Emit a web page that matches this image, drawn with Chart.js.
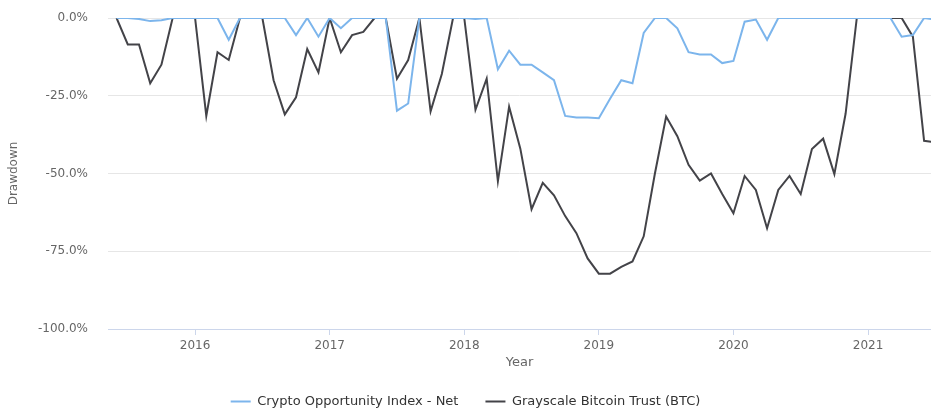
<!DOCTYPE html>
<html>
<head>
<meta charset="utf-8">
<script src="https://cdn.jsdelivr.net/npm/chart.js@4/dist/chart.umd.min.js"></script>
<style>
  html, body { margin: 0; padding: 0; background: #fff; }
  #wrap { width: 931px; height: 408px; position: relative; }
</style>
</head>
<body>
<div id="wrap"><canvas id="chart"></canvas></div>
<script>
// Monthly drawdown (%), Jun 2015 – Jul 2021
const MONTHS = [
  "2015-06","2015-07","2015-08","2015-09","2015-10","2015-11","2015-12",
  "2016-01","2016-02","2016-03","2016-04","2016-05","2016-06","2016-07","2016-08","2016-09","2016-10","2016-11","2016-12",
  "2017-01","2017-02","2017-03","2017-04","2017-05","2017-06","2017-07","2017-08","2017-09","2017-10","2017-11","2017-12",
  "2018-01","2018-02","2018-03","2018-04","2018-05","2018-06","2018-07","2018-08","2018-09","2018-10","2018-11","2018-12",
  "2019-01","2019-02","2019-03","2019-04","2019-05","2019-06","2019-07","2019-08","2019-09","2019-10","2019-11","2019-12",
  "2020-01","2020-02","2020-03","2020-04","2020-05","2020-06","2020-07","2020-08","2020-09","2020-10","2020-11","2020-12",
  "2021-01","2021-02","2021-03","2021-04","2021-05","2021-06","2021-07",
];

const CRYPTO_INDEX = [
  0, 0, -0.3, -1, -0.7, 0, 0,
  0, 0, 0, -7, 0, 0, 0, 0, 0, -5.5, 0, -6,
  0, -3.3, 0, 0, 0, 0, -29.8, -27.5, 0, 0, 0, 0,
  0, -0.3, 0, -16.5, -10.5, -15, -15, -17.5, -20, -31.5, -32, -32,
  -32.2, -26, -20, -21, -4.8, 0, 0, -3.3, -11, -11.7, -11.7, -14.5,
  -13.8, -1.2, -0.5, -7, 0, 0, 0, 0, 0, 0, 0, 0,
  0, 0, 0, -6, -5.5, 0, -0.5,
];

const GBTC = [
  0, -8.5, -8.5, -21, -15, 0, 0,
  0, -31.5, -11, -13.5, 0, 0, 0, -20, -31, -25.5, -10, -17.5,
  0, -11, -5.5, -4.5, 0, 0, -19.5, -13.5, 0, -30, -18, 0,
  0, -29.5, -19.5, -52.5, -28.5, -42, -61.5, -53, -57, -63.7, -69.2, -77.3,
  -82.2, -82.2, -80, -78.3, -70.2, -50, -31.7, -38, -47.2, -52.3, -50, -56.6,
  -62.8, -50.8, -55.3, -67.6, -55.3, -50.8, -56.6, -42.1, -38.8, -50.2, -30.8, 0,
  0, 0, 0, 0, -6, -39.5, -40,
];

const SERIES_NAMES = ["Crypto Opportunity Index - Net", "Grayscale Bitcoin Trust (BTC)"];
const Y_TICKS = [0, -25, -50, -75, -100];

// ── Helpers ───────────────────────────────────────────────────────
function yearFrac(m) {
  const [y, mo] = m.split("-").map(Number);
  return y + (mo - 1) / 12;
}

function points(values) {
  return values.map((v, i) => ({ x: yearFrac(MONTHS[i]), y: v }));
}

const FONT = "'DejaVu Sans', Verdana, sans-serif";

new Chart(document.getElementById("chart"), {
  type: "line",
  data: {
    datasets: [
      {
        label: SERIES_NAMES[0],
        data: points(CRYPTO_INDEX),
        borderColor: "#7cb5ec",
        backgroundColor: "#7cb5ec",
        borderWidth: 2,
        pointRadius: 0,
        tension: 0,
      },
      {
        label: SERIES_NAMES[1],
        data: points(GBTC),
        borderColor: "#434348",
        backgroundColor: "#434348",
        borderWidth: 2,
        pointRadius: 0,
        tension: 0,
      },
    ],
  },
  options: {
    responsive: true,
    maintainAspectRatio: false,
    animation: false,
    layout: { padding: { left: 0, right: 0, top: 18, bottom: 0 } },
    scales: {
      x: {
        type: "linear",
        min: 2015.353,
        max: 2021.468,
        afterFit: (s) => { s.height = 39; },
        ticks: {
          stepSize: 1,
          includeBounds: false,
          padding: 4,
          color: "#666666",
          font: { family: FONT, size: 12 },
          callback: (v) => (Number.isInteger(v) ? String(v) : ""),
        },
        grid: {
          drawOnChartArea: false,
          tickLength: 6,
          tickColor: "#ccd6eb",
        },
        border: { color: "#ccd6eb", width: 1 },
        title: {
          display: true,
          text: "Year",
          color: "#666666",
          font: { family: FONT, size: 13 },
          padding: { top: 0, bottom: -2 },
        },
      },
      y: {
        min: -100,
        max: 0,
        afterFit: (s) => { s.width = 108; },
        afterBuildTicks: (s) => { s.ticks = Y_TICKS.map((v) => ({ value: v })); },
        ticks: {
          padding: 3,
          color: "#666666",
          font: { family: FONT, size: 12 },
          callback: (v) => v.toFixed(1) + "%",
        },
        grid: {
          tickLength: 17,
          tickColor: "rgba(0,0,0,0)",
          color: (c) => (c.tick && c.tick.value === -100 ? "rgba(0,0,0,0)" : "#e6e6e6"),
        },
        border: { display: false },
        title: {
          display: true,
          text: "Drawdown",
          color: "#666666",
          font: { family: FONT, size: 12 },
          padding: { top: 7, bottom: 0 },
        },
      },
    },
    plugins: {
      tooltip: { enabled: false },
      legend: {
        position: "bottom",
        maxHeight: 40,
        labels: {
          boxWidth: 20,
          boxHeight: 2,
          padding: 27,
          color: "#333333",
          font: { family: FONT, size: 13 },
          generateLabels: (chart) =>
            Chart.defaults.plugins.legend.labels.generateLabels(chart).map((it) => ({
              ...it,
              fillStyle: it.strokeStyle,
              lineWidth: 0,
            })),
        },
      },
    },
  },
});
</script>
</body>
</html>
